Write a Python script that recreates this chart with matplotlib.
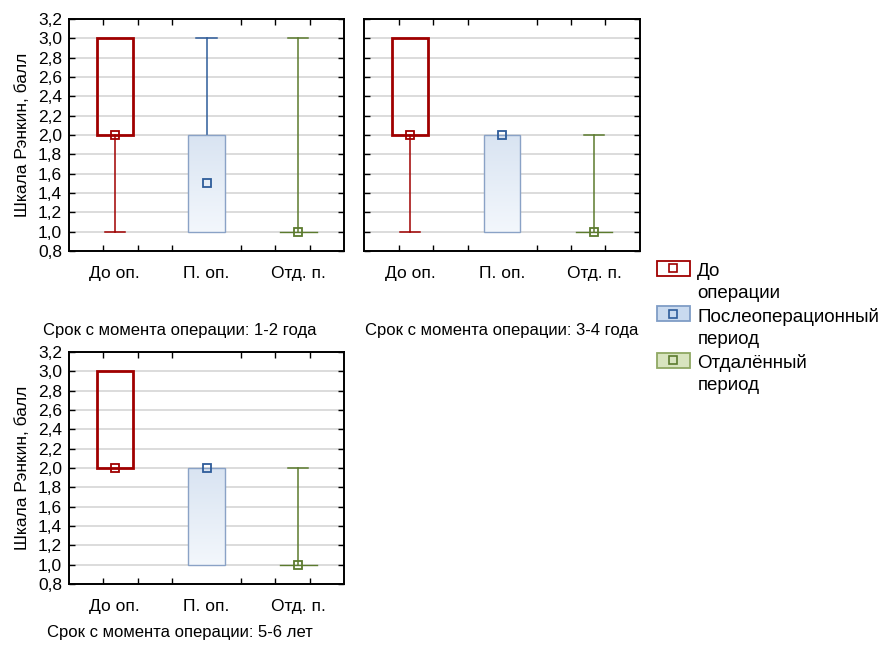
import matplotlib
matplotlib.use('Agg')
import matplotlib.pyplot as plt
import numpy as np
from matplotlib.patches import Rectangle
from matplotlib.lines import Line2D
from matplotlib.legend_handler import HandlerBase

plt.rcParams['font.family'] = ['Liberation Sans', 'DejaVu Sans']

# data
categories = ['До оп.', 'П. оп.', 'Отд. п.']
captions = ['Срок с момента операции: 1-2 года',
            'Срок с момента операции: 3-4 года',
            'Срок с момента операции: 5-6 лет']
# per panel: [min, q1, q3, max, median] for each category
panel1 = [[1, 2, 3, 3, 2.0], [1, 1, 2, 3, 1.5], [1, 1, 1, 3, 1.0]]
panel2 = [[1, 2, 3, 3, 2.0], [1, 1, 2, 2, 2.0], [1, 1, 1, 2, 1.0]]
panel3 = [[2, 2, 3, 3, 2.0], [1, 1, 2, 2, 2.0], [1, 1, 1, 2, 1.0]]
legend_labels = ['До\nоперации', 'Послеоперационный\nпериод', 'Отдалённый\nпериод']

line_colors = ['#a00000', '#2e5c9a', '#5c7b2e']
edge_colors = ['#a00000', '#8aa2c6', '#5c7b2e']
edge_widths = [2.0, 1.0, 1.0]
leg_faces = ['white', '#c9daef', '#d8e4bf']
leg_edges = ['#a00000', '#7f9dc6', '#8fa863']

W, H = 886, 649
fig = plt.figure(figsize=(W / 100, H / 100), dpi=100)

box_w = 0.4
cap_w = 0.22
fs = 12.5


def draw_panel(ax, stats, show_ylabels):
    for g in np.arange(0.8, 3.21, 0.2):
        ax.axhline(g, color='#d9d9d9', lw=1.3, zorder=0)
    for i, (mn, q1, q3, mx, med) in enumerate(stats):
        c = line_colors[i]
        if mx > q3:
            ax.plot([i, i], [q3, mx], color=c, lw=1.1, zorder=2)
            ax.plot([i - cap_w / 2, i + cap_w / 2], [mx, mx], color=c, lw=1.1, zorder=2)
        if mn < q1:
            ax.plot([i, i], [mn, q1], color=c, lw=1.1, zorder=2)
            ax.plot([i - cap_w / 2, i + cap_w / 2], [mn, mn], color=c, lw=1.1, zorder=2)
        if q3 > q1:
            if i == 1:
                grad = np.linspace(0, 1, 100).reshape(-1, 1)
                cmap = matplotlib.colors.LinearSegmentedColormap.from_list(
                    'g', ['#f3f7fc', '#d9e4f2'])
                ax.imshow(grad, extent=(i - box_w / 2, i + box_w / 2, q1, q3),
                          origin='lower', aspect='auto', cmap=cmap, zorder=2)
            ax.add_patch(Rectangle((i - box_w / 2, q1), box_w, q3 - q1, fill=False,
                                   edgecolor=edge_colors[i], lw=edge_widths[i], zorder=3))
        else:
            ax.plot([i - box_w / 2, i + box_w / 2], [q1, q1], color=c, lw=1.0, zorder=3)
        ax.plot([i], [med], marker='s', ms=6, mfc='none', mec=c, mew=1.3, zorder=4)

    ax.set_xlim(-0.5, 2.5)
    ax.set_ylim(0.8, 3.2)
    ax.set_xticks(range(len(categories)))
    ax.set_xticklabels(categories, fontsize=fs)
    ax.set_xticks(-0.5 + 0.375 * np.arange(1, 8), minor=True)
    ax.set_yticks(np.round(np.arange(0.8, 3.21, 0.2), 1))
    ax.yaxis.set_major_formatter(matplotlib.ticker.FuncFormatter(
        lambda v, p: f'{v:.1f}'.replace('.', ',')))
    ax.tick_params(axis='x', which='major', length=0, pad=11)
    ax.tick_params(axis='x', which='minor', direction='in', top=True, bottom=True,
                   length=4, width=1)
    ax.tick_params(axis='y', direction='in', left=True, right=True, length=4,
                   width=1, labelsize=fs, pad=5)
    if not show_ylabels:
        ax.set_yticklabels([])
    else:
        ax.set_ylabel('Шкала Рэнкин, балл', fontsize=fs, labelpad=6)
    for s in ax.spines.values():
        s.set_linewidth(1.4)


ax1 = fig.add_axes([69 / W, 1 - 251 / H, 275 / W, 232 / H])
ax2 = fig.add_axes([364 / W, 1 - 251 / H, 276 / W, 232 / H])
ax3 = fig.add_axes([69 / W, 1 - 584 / H, 275 / W, 232 / H])
draw_panel(ax1, panel1, True)
draw_panel(ax2, panel2, False)
draw_panel(ax3, panel3, True)

fig.text(180 / W, 1 - 330 / H, captions[0], ha='center', va='center', fontsize=12)
fig.text(502 / W, 1 - 330 / H, captions[1], ha='center', va='center', fontsize=12)
fig.text(180 / W, 1 - 633 / H, captions[2], ha='center', va='center', fontsize=12)


class BoxHandler(HandlerBase):
    # put the box next to the first line of a two-line label
    def create_artists(self, legend, orig_handle, xdescent, ydescent, width, height,
                       fontsize, trans):
        face, edge, mc = orig_handle
        shift = fontsize * 0.74
        bh = fontsize * 0.8
        y0 = -ydescent + height / 2 - bh / 2 + shift
        r = Rectangle((-xdescent, y0), width, bh, facecolor=face, edgecolor=edge,
                      lw=1.3, transform=trans)
        m = Line2D([-xdescent + width / 2], [y0 + bh / 2], marker='s', ms=5.5,
                   mfc='none', mec=mc, mew=1.2, transform=trans)
        return [r, m]


handles = [(leg_faces[i], leg_edges[i], line_colors[i]) for i in range(3)]
leg = fig.legend(handles, legend_labels, handler_map={tuple: BoxHandler()},
                 loc='upper left', bbox_to_anchor=(657 / W, 1 - 263 / H), frameon=False,
                 fontsize=13.5, handlelength=1.75, handletextpad=0.4, labelspacing=0.34,
                 borderpad=0, borderaxespad=0)
for t in leg.get_texts():
    t.set_linespacing(1.36)

fig.savefig('out.png', dpi=100)
